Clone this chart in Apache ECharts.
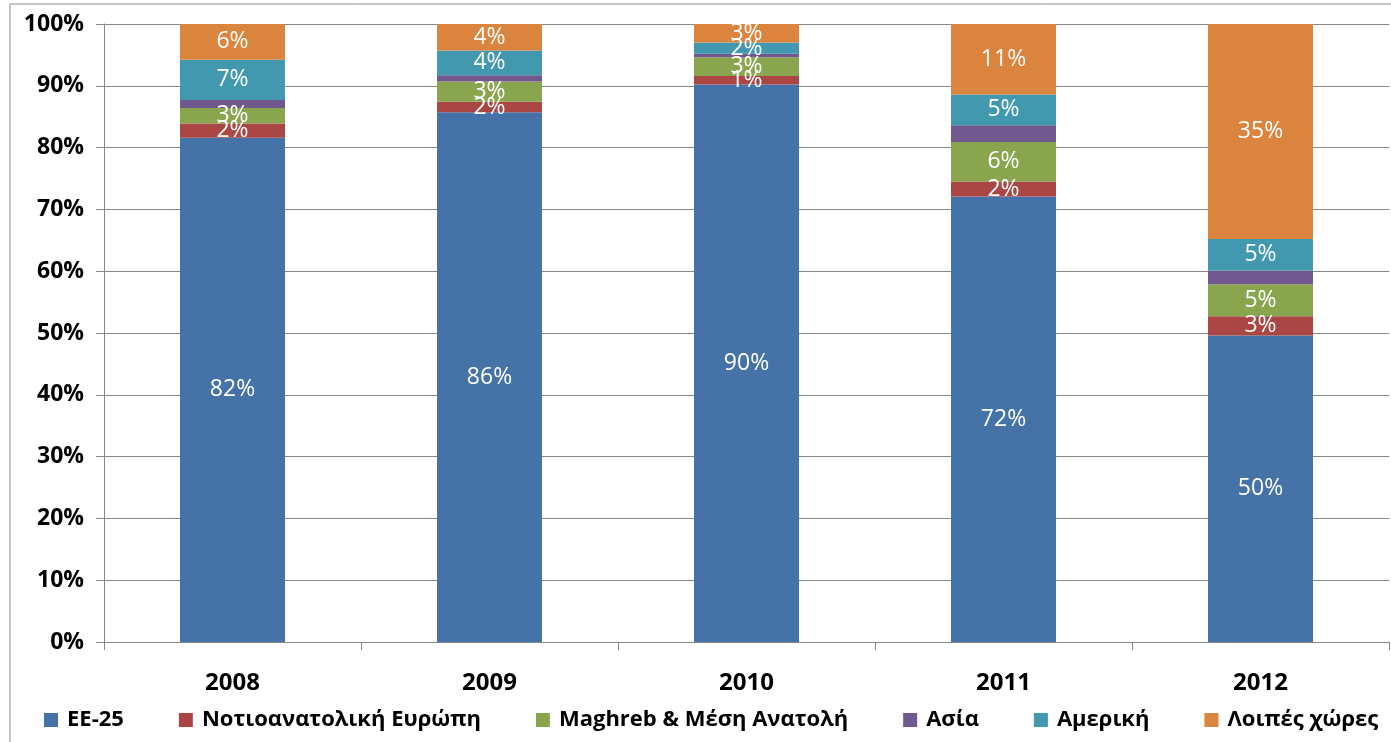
<!DOCTYPE html>
<html>
<head>
<meta charset="utf-8">
<script src="https://cdn.jsdelivr.net/npm/echarts@6/dist/echarts.min.js"></script>
<style>
  html, body { margin: 0; padding: 0; background: #fff; }
  #chart { width: 1391px; height: 742px; }
</style>
</head>
<body>
<div id="chart"></div>
<script>
// years on x axis
var years = ['2008', '2009', '2010', '2011', '2012']
// shares per region, in %
var ee25 = [81.6, 85.7, 90.2, 72.1, 49.6]
var seEurope = [2.3, 1.7, 1.4, 2.4, 3.1]
var maghreb = [2.5, 3.3, 3.0, 6.4, 5.2]
var asia = [1.3, 1.0, 0.6, 2.7, 2.2]
var america = [6.5, 4.0, 1.8, 5.0, 5.1]
var others = [5.8, 4.3, 3.0, 11.4, 34.8]

var names = ['ΕΕ-25', 'Νοτιοανατολική Ευρώπη', 'Maghreb & Μέση Ανατολή', 'Ασία', 'Αμερική', 'Λοιπές χώρες']
var colors = ['#4572a7', '#aa4643', '#89a54e', '#71588f', '#4198af', '#db843d']
var values = [ee25, seEurope, maghreb, asia, america, others]

var fontName = '"Open Sans", "Noto Sans", sans-serif'

var series = values.map(function (arr, i) {
  return {
    name: names[i],
    type: 'bar',
    stack: 'total',
    barWidth: 105,
    data: arr,
    itemStyle: { color: colors[i] },
    label: {
      show: i !== 3,
      position: 'inside',
      color: '#fff',
      fontSize: 23,
      fontFamily: fontName,
      formatter: function (p) { return Math.round(p.value) + '%' }
    }
  }
})

var dom = echarts.init(document.getElementById('chart'))
dom.setOption({
  animation: false,
  graphic: [{
    type: 'rect',
    shape: { x: 10, y: 4, width: 1400, height: 800 },
    style: { fill: 'none', stroke: '#8c8c8c', lineWidth: 1 }
  }],
  legend: {
    data: names,
    left: 39,
    top: 704,
    itemWidth: 14,
    itemHeight: 14,
    itemGap: 55,
    icon: 'rect',
    textStyle: { fontSize: 22, fontWeight: 'bold', color: '#000', fontFamily: fontName, padding: [0, 0, 0, 4] }
  },
  grid: { left: 104, right: 2, top: 24, bottom: 100 },
  xAxis: {
    type: 'category',
    data: years,
    axisLine: { lineStyle: { color: '#868686' } },
    axisTick: { show: true, length: 8, lineStyle: { color: '#868686' } },
    axisLabel: { fontSize: 24, fontWeight: 'bold', color: '#000', fontFamily: fontName, margin: 29 }
  },
  yAxis: {
    type: 'value',
    min: 0,
    max: 100,
    interval: 10,
    axisLine: { show: true, lineStyle: { color: '#868686' } },
    axisTick: { show: true, length: 8, lineStyle: { color: '#868686' } },
    splitLine: { lineStyle: { color: '#868686' } },
    axisLabel: {
      fontSize: 23, fontWeight: 'bold', color: '#000', fontFamily: fontName, margin: 20,
      formatter: '{value}%'
    }
  },
  series: series
})
</script>
</body>
</html>
